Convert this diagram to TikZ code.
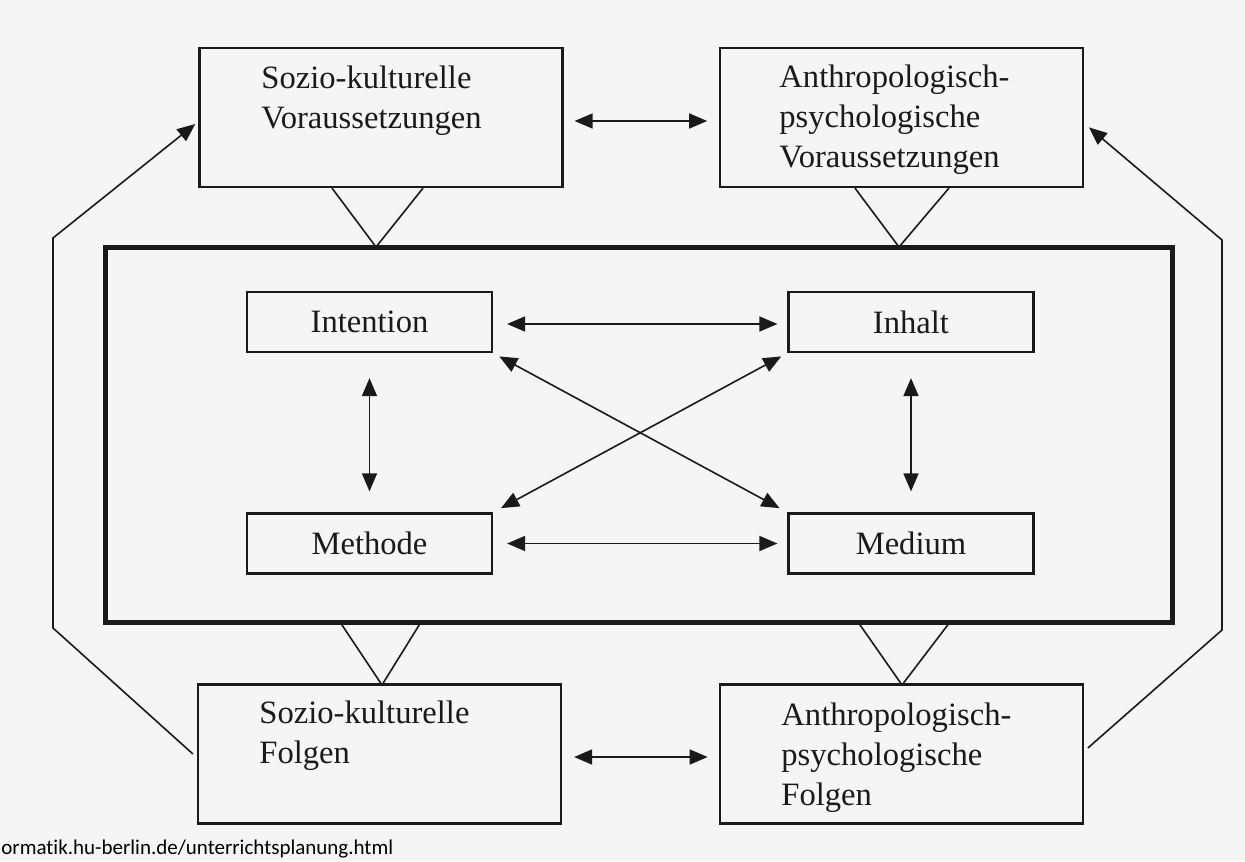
\documentclass[tikz,border=0pt]{standalone}
\usepackage{fontspec}
\setmainfont{Liberation Serif}
\newfontfamily\footfont[Ligatures=NoCommon]{Carlito}
\usetikzlibrary{arrows.meta}
\definecolor{ink}{HTML}{1A1A1A}
\definecolor{bg}{HTML}{F5F5F5}
\begin{document}
\begin{tikzpicture}[x=0.5pt,y=-0.5pt,
  obox/.style={draw=ink,line width=1.1pt,inner sep=0pt,minimum width=181.5pt,minimum height=69.5pt},
  ibox/.style={draw=ink,line width=1.1pt,inner sep=0pt,minimum width=122.5pt,minimum height=30pt,
    font=\fontsize{16.3pt}{20pt}\selectfont,text=ink},
  corebox/.style={draw=ink,line width=2.5pt,inner sep=0pt,minimum width=533.5pt,minimum height=187.5pt},
  lbl/.style={inner sep=0pt,align=left,font=\fontsize{16.3pt}{20pt}\selectfont,text=ink,anchor=base west},
  conn/.style={draw=ink,line width=0.8pt},
  tip/.tip={Triangle[length=9pt,width=7.5pt]},
  dbl/.style={conn,tip-tip},
  sgl/.style={conn,-tip}]
\useasboundingbox[fill=bg] (0,0) rectangle (1245,861);

% outer boxes
\node[obox] (sv) at (381,117.5) {};
\node[obox] (ap) at (901.75,117.5) {};
\node[obox] (bf) at (379.5,754) {};
\node[obox] (bp) at (901.25,754) {};
% (anchor = baseline of the last line)
\node[lbl] (svt) at (261,129) {Sozio-kulturelle\\Voraussetzungen};
\node[lbl] (apt) at (779,168) {Anthropologisch-\\psychologische\\Voraussetzungen};
\node[lbl] (bft) at (259,763) {Sozio-kulturelle\\Folgen};
\node[lbl] (bpt) at (781,805) {Anthropologisch-\\psychologische\\Folgen};

% core
\node[corebox] (core) at (638.5,434.5) {};
\node[ibox] (int) at (369.5,322) {Intention};
\node[ibox] (inh) at (911,322) {Inhalt};
\node[ibox] (met) at (369.5,543.5) {Methode};
\node[ibox] (med) at (911,543.5) {Medium};

% funnels
\coordinate (ftl) at (376,247);
\coordinate (ftr) at (899,247);
\coordinate (fbl) at (382,685);
\coordinate (fbr) at (902,685);
\draw[conn] ([xshift=-24.5pt]sv.south) -- (ftl) -- ([xshift=21pt]sv.south);
\draw[conn] ([xshift=-23.4pt]ap.south) -- (ftr) -- ([xshift=23.6pt]ap.south);
\draw[conn] (340,622) -- (fbl) -- (421,622);
\draw[conn] (858,622) -- (fbr) -- (950,622);

% horizontal outer arrows
\draw[dbl,shorten <=5.5pt,shorten >=6pt] ([yshift=-1.75pt]sv.east) -- ([yshift=-1.75pt]ap.west);
\draw[dbl,shorten <=6pt,shorten >=5.5pt] ([yshift=-1.5pt]bf.east) -- ([yshift=-1.5pt]bp.west);

% inner arrows
\draw[dbl,shorten <=7pt,shorten >=5pt] ([yshift=-1pt]int.east) -- ([yshift=-1pt]inh.west);
\draw[dbl,shorten <=7pt,shorten >=5pt] (met.east) -- (med.west);
\draw[dbl,shorten <=12.5pt,shorten >=10.5pt] (int.south) -- (met.north);
\draw[dbl,shorten <=12.5pt,shorten >=10.5pt] (inh.south) -- (med.north);
\draw[dbl,shorten <=3.5pt,shorten >=4.5pt] (int.south east) -- (med.north west);
\draw[dbl,shorten <=3.5pt,shorten >=4.5pt] (inh.south west) -- (met.north east);

% outer loops
\coordinate (cl1) at (53,628);
\coordinate (cl2) at (53,238);
\coordinate (cr1) at (1222,630);
\coordinate (cr2) at (1222,240);
\draw[sgl,shorten >=2pt] ([xshift=-2pt]bf.west) -- (cl1) -- (cl2) -- ([yshift=-2pt]sv.west);
\draw[sgl,shorten >=3pt] ([xshift=2pt,yshift=3pt]bp.east) -- (cr1) -- (cr2) -- ([yshift=-3pt]ap.east);

% footer
\node[font=\footfont\fontsize{10.5pt}{12pt}\selectfont,anchor=base west,inner sep=0pt,text=black] (url) at (1,854) {ormatik.hu-berlin.de/unterrichtsplanung.html};
\end{tikzpicture}
\end{document}
